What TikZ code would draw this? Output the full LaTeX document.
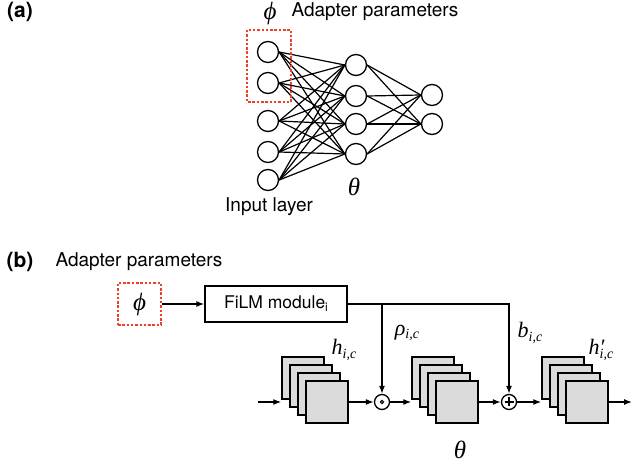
\documentclass[tikz,border=0pt]{standalone}
\usepackage{fontspec}
\setmainfont{TeX Gyre Heros}
\newfontfamily\symserif{Liberation Serif}
\usetikzlibrary{arrows.meta}
\definecolor{adapterred}{RGB}{238,64,38}
\newcommand\lowidx[1]{\raisebox{-0.35ex}{\fontsize{14}{16}\selectfont #1}}
\begin{document}
\begin{tikzpicture}[x=1pt,y=-1pt,
    every node/.style={font=\fontsize{19}{22}\selectfont},
    panel/.style={font=\fontsize{21}{24}\selectfont\bfseries},
    symbol/.style={font=\fontsize{22}{26}\selectfont\symserif\itshape},
    bigsymbol/.style={font=\fontsize{25}{28}\selectfont\symserif\itshape},
    neuron/.style={circle,draw,line width=1.3pt,minimum size=21pt,inner sep=0pt},
    link/.style={line width=1.2pt},
    adapter/.style={draw=adapterred,line width=1.6pt,dash pattern=on 2.5pt off 1.8pt},
    fmap/.style={draw,line width=1.5pt,fill=black!14,minimum size=42pt,inner sep=0pt},
    flow/.style={-{Latex[length=8pt,width=6pt]},line width=1.3pt},
    op/.style={circle,draw,line width=1.3pt,minimum size=15pt,inner sep=0pt}]
  \useasboundingbox (0,0) rectangle (633,465);
  % (a) network with adapter inputs
  \node[panel] (lbla) at (20,12) {(a)};
  \node[bigsymbol] (phia) at (270,13) {ϕ};
  \node[anchor=west] (adpa) at (288,12) {Adapter parameters};
  \foreach \y [count=\i] in {52,83,121,152,180}
    \node[neuron] (in\i) at (268,\y) {};
  \foreach \y [count=\i] in {65,96,124,154}
    \node[neuron] (hid\i) at (356,\y) {};
  \foreach \y [count=\i] in {95,124}
    \node[neuron] (out\i) at (432,\y) {};
  \foreach \i in {1,...,5}
    \foreach \j in {1,...,4}
      \draw[link] (in\i.east) -- (hid\j.west);
  \foreach \i in {1,...,4}
    \foreach \j in {1,2}
      \draw[link] (hid\i.east) -- (out\j.west);
  \draw[adapter] (247,30) rectangle (291,102);
  \node[bigsymbol] (thetaa) at (354,187) {θ};
  \node (inlbl) at (269,207) {Input layer};
  % (b) FiLM adapter on feature maps
  \node[panel] (lblb) at (20,262) {(b)};
  \node[anchor=west] (adpb) at (52,262) {Adapter parameters};
  \node[adapter,bigsymbol,minimum width=43pt,minimum height=42pt,inner sep=0pt] (phib) at (139.5,304) {ϕ};
  \node[draw,line width=1.3pt,minimum width=142pt,minimum height=36pt,font=\fontsize{17.5}{20}\selectfont] (film) at (276,304) {FiLM module\raisebox{-0.35ex}{\fontsize{12}{14}\selectfont i}};
  \draw[flow] (phib) -- (film);
  \foreach \x [count=\s] in {303,433,563}
    \foreach \k in {0,...,3}
      \node[fmap] (map\s-\k) at (\x+8*\k,378+8*\k) {};
  \node[op] (mul) at (382,402) {};
  \draw[line width=1pt] (mul.center) circle (1.7pt);
  \node[op] (add) at (509,402) {};
  \draw[line width=1.2pt] ([yshift=4.5pt]add.center) -- ([yshift=-4.5pt]add.center)
    ([xshift=-4.5pt]add.center) -- ([xshift=4.5pt]add.center);
  \coordinate (src) at (258,402);
  \coordinate (sink) at (632,402);
  \draw[flow] (src) -- (map1-0.west |- src);
  \draw[flow] (map1-3.east) -- (mul);
  \draw[flow] (mul) -- (map2-0.west |- mul);
  \draw[flow] (map2-3.east) -- (add);
  \draw[flow] (add) -- (map3-0.west |- add);
  \draw[flow] (map3-3.east) -- (sink);
  \draw[flow] (film.east) -| (add);
  \draw[flow] (film.east -| mul) -- (mul);
  \node[symbol,inner sep=1pt] (rho) at (407,333) {ρ\lowidx{i,c}};
  \node[symbol,inner sep=1pt] (bic) at (530,333) {b\lowidx{i,c}};
  \node[symbol,inner sep=1pt] (hin) at (344,350) {h\lowidx{i,c}};
  \node[symbol,inner sep=1pt] (hout) at (601,350) {h\rlap{′}\lowidx{i,c}};
  \node[bigsymbol] (thetab) at (460,450) {θ};
\end{tikzpicture}
\end{document}
